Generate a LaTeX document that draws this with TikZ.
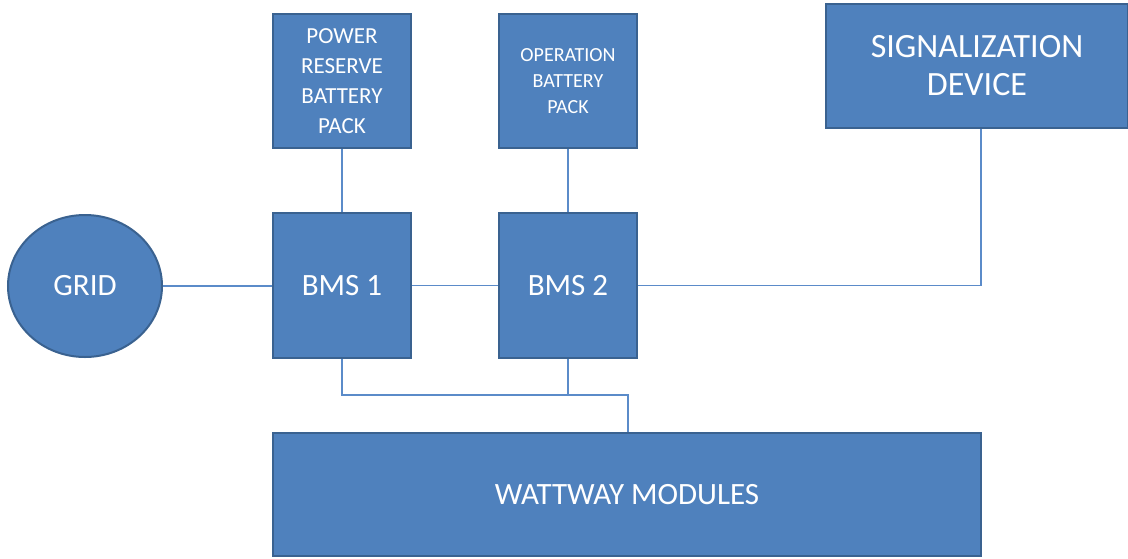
\documentclass[tikz,border=0pt]{standalone}
\usepackage{fontspec}
\setmainfont{Carlito}
\usepackage{tikz}
\usetikzlibrary{positioning, shapes.geometric}
\definecolor{BlockFill}{HTML}{4F81BD}
\definecolor{BlockEdge}{HTML}{3A6290}
\definecolor{WireCol}{HTML}{5B8BC9}

\begin{document}
\begin{tikzpicture}[
  x=0.5pt, y=-0.5pt,
  blk/.style={draw=BlockEdge, fill=BlockFill, line width=1pt, text=white,
              align=center, inner sep=2pt},
  packbox/.style={blk, minimum width=69pt, minimum height=67pt},
  bmsbox/.style={blk, minimum width=69pt, minimum height=72.5pt,
              font=\fontsize{15.5}{18}\selectfont},
  wire/.style={draw=WireCol, line width=0.6pt}]
\useasboundingbox (0,0) rectangle (1128,558);
% battery packs
\node[packbox, font=\fontsize{11.5}{15}\selectfont] (prb) at (342,81)
  {POWER\\RESERVE\\BATTERY\\PACK};
\node[packbox, font=\fontsize{10}{13}\selectfont] (opb) at (568,81)
  {OPERATION\\BATTERY\\PACK};
% controllers
\node[bmsbox] (bms1) at (342,285.5) {BMS 1};
\node[bmsbox] (bms2) at (568,285.5) {BMS 2};
\node[blk, ellipse, minimum width=77pt, minimum height=71pt,
  font=\fontsize{15.5}{18}\selectfont] (grid) at (85,286) {GRID};
\node[blk, minimum width=151pt, minimum height=62pt,
  font=\fontsize{17}{19}\selectfont] (sig) at (977,66) {SIGNALIZATION\\DEVICE};
\node[blk, minimum width=354pt, minimum height=61.5pt,
  font=\fontsize{15.5}{18}\selectfont] (wm) at (627,494.5) {WATTWAY MODULES};
\coordinate (bus) at (628,395);
% wiring
\draw[wire] (prb) -- (bms1);
\draw[wire] (opb) -- (bms2);
\draw[wire] (grid.east) -- (grid.east -| bms1.west);
\draw[wire] (bms1) -- (bms2);
\draw[wire] (bms2.east) -| ([xshift=2pt]sig.south);
\draw[wire] (bms1) |- (bus) -- (bus |- wm.north);
\draw[wire] (bms2) -- (bms2 |- bus);
\end{tikzpicture}
\end{document}
